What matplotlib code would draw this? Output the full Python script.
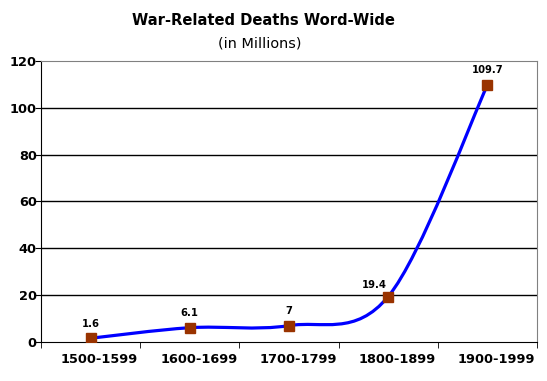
import matplotlib.pyplot as plt
from matplotlib.path import Path
from matplotlib.patches import PathPatch
from matplotlib.transforms import ScaledTranslation

# chart data
periods = ["1500-1599", "1600-1699", "1700-1799", "1800-1899", "1900-1999"]
deaths = [1.6, 6.1, 7, 19.4, 109.7]
labels = ["1.6", "6.1", "7", "19.4", "109.7"]
yticks = [0, 20, 40, 60, 80, 100, 120]

lineColor = "#0000FF"
markerColor = "#993300"
# label offsets in points (excel nudges the 19.4 label left)
labelOffsets = [(0, 7), (0, 7), (0, 7), (-9.7, 4.7), (0, 7)]

fig = plt.figure(figsize=(5.47, 3.81), dpi=100)
ax = fig.add_axes([0.075, 0.1024, 0.9067, 0.7376])

# smoothed line (excel style bezier through the points)
xs = list(range(len(deaths)))
pts = list(zip(xs, deaths))
verts = [pts[0]]
codes = [Path.MOVETO]
for i in range(len(pts) - 1):
    p0 = pts[i - 1] if i > 0 else pts[i]
    p1 = pts[i]
    p2 = pts[i + 1]
    p3 = pts[i + 2] if i + 2 < len(pts) else pts[i + 1]
    c1 = (p1[0] + (p2[0] - p0[0]) / 6, p1[1] + (p2[1] - p0[1]) / 6)
    c2 = (p2[0] - (p3[0] - p1[0]) / 6, p2[1] - (p3[1] - p1[1]) / 6)
    verts += [c1, c2, p2]
    codes += [Path.CURVE4] * 3
ax.add_patch(PathPatch(Path(verts, codes), facecolor="none",
                       edgecolor=lineColor, linewidth=2.3, zorder=3))

ax.plot(xs, deaths, "s", color=markerColor, markersize=6.5, zorder=4)

for x, y, t, off in zip(xs, deaths, labels, labelOffsets):
    ax.annotate(t, (x, y), xytext=off, textcoords="offset points",
                ha="center", va="bottom", fontsize=7.2, fontweight="bold")

# grid
for y in yticks[1:-1]:
    ax.axhline(y, color="black", linewidth=1, zorder=1)
ax.axhline(120, xmin=0.5, color="black", linewidth=1.2, zorder=1)

ax.set_xlim(-0.5, 4.5)
ax.set_ylim(0, 120)
ax.set_yticks(yticks)
ax.set_xticks(xs)
ax.set_xticklabels(periods)
ax.set_xticks([i - 0.5 for i in range(len(periods) + 1)], minor=True)
ax.tick_params(axis="x", which="major", length=0, pad=8)
ax.tick_params(axis="x", which="minor", length=4, color="black")
ax.tick_params(axis="y", length=4, pad=-1)
shift = ScaledTranslation(9 / 100, 0, fig.dpi_scale_trans)
for lab in ax.get_xticklabels():
    lab.set_transform(lab.get_transform() + shift)
for lab in ax.get_xticklabels() + ax.get_yticklabels():
    lab.set_fontsize(9.3)
    lab.set_fontweight("bold")

ax.spines["left"].set_color("black")
ax.spines["bottom"].set_color("black")
ax.spines["top"].set_color("#808080")
ax.spines["right"].set_color("#808080")

fig.text(0.481, 0.945, "War-Related Deaths Word-Wide", ha="center",
         va="center", fontsize=10.6, fontweight="bold")
fig.text(0.475, 0.885, "(in Millions)", ha="center", va="center",
         fontsize=10.4)

fig.savefig("out.png", dpi=100)
